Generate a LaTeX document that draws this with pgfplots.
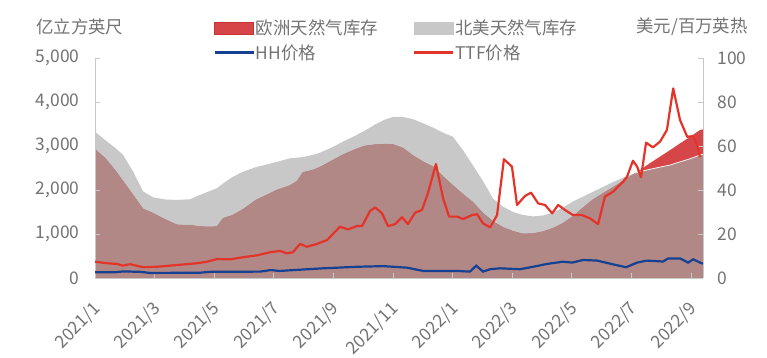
\documentclass[border=0pt]{standalone}
\usepackage{fontspec}
\setmainfont{Noto Sans CJK SC}
\usepackage{pgfplots}
\usepackage{pgfplotstable}
\pgfplotsset{compat=1.18}

\definecolor{naGray}{RGB}{200,200,200}
\definecolor{euRed}{RGB}{214,70,72}
\definecolor{euDark}{RGB}{200,50,50}
\definecolor{overlap}{RGB}{177,136,134}
\definecolor{hhBlue}{RGB}{22,64,146}
\definecolor{ttfRed}{RGB}{228,52,42}
\definecolor{txt}{RGB}{115,115,115}
\definecolor{axl}{RGB}{200,200,200}

\pgfplotstableread{
m na eu
0 3325 2924
0.34 3136 2720
0.67 2960 2450
0.94 2800 2200
1.28 2417 1880
1.61 1970 1570
1.95 1833 1470
2.35 1785 1330
2.75 1775 1205
3.19 1790 1200
3.52 1886 1167
3.86 1980 1160
4.09 2040 1167
4.30 2150 1356
4.60 2290 1420
4.97 2417 1560
5.40 2520 1770
5.74 2575 1880
6.11 2640 2000
6.54 2720 2100
6.78 2735 2200
6.98 2750 2400
7.32 2800 2455
7.55 2850 2520
7.89 2947 2644
8.32 3098 2800
8.72 3230 2920
9.06 3350 3000
9.40 3490 3030
9.73 3600 3040
10.00 3660 3035
10.34 3660 2947
10.67 3610 2780
11.01 3515 2640
11.34 3420 2530
11.68 3300 2303
12.01 3211 2100
12.35 2900 1900
12.68 2560 1720
13.02 2200 1470
13.36 1800 1280
13.69 1620 1150
14.03 1500 1060
14.36 1432 1000
14.70 1400 1010
15.03 1420 1053
15.37 1490 1130
15.70 1600 1242
16.04 1740 1400
16.38 1850 1600
16.71 1960 1780
17.05 2070 1924
17.38 2180 2060
17.72 2280 2200
17.95 2341 2303
18.13 2382 2382
18.29 2420 2455
18.62 2470 2610
18.96 2520 2760
19.30 2568 2909
19.63 2640 3060
19.97 2710 3210
20.30 2795 3364
20.40 2815 3380
}\storage

\pgfplotstableread{
m p
0 2.6
0.67 2.6
0.94 3.0
1.51 2.8
1.85 2.3
3.52 2.4
3.86 2.8
5.54 2.9
5.90 3.6
6.20 3.2
6.54 3.5
7.65 4.4
8.79 5.1
9.66 5.4
10.47 4.7
11.01 3.2
12.15 3.2
12.58 2.9
12.79 5.6
13.02 2.9
13.26 4.0
13.59 4.4
14.26 4.0
14.70 5.1
15.17 6.4
15.70 7.4
16.01 7.0
16.38 8.2
16.85 7.9
17.38 6.2
17.82 4.9
18.19 7.0
18.52 7.9
19.06 7.5
19.23 8.9
19.63 8.9
19.90 7.0
20.07 8.5
20.30 7.0
20.40 6.5
}\hh

\pgfplotstableread{
m p
0 7.4
0.40 6.7
0.74 6.4
0.94 5.6
1.17 6.3
1.61 4.9
2.08 5.1
2.75 5.9
3.42 6.7
3.76 7.4
4.09 8.6
4.53 8.5
5.10 9.7
5.44 10.3
5.87 11.7
6.21 12.3
6.44 11.2
6.64 11.7
6.88 15.5
7.11 14.2
7.45 15.5
7.79 17.3
8.22 23.3
8.49 22.1
8.79 23.6
8.96 23.6
9.23 30.5
9.40 32.1
9.63 29.4
9.83 23.6
10.07 24.5
10.30 27.6
10.50 24.5
10.74 29.7
10.97 30.9
11.17 38.5
11.44 51.8
11.68 36.2
11.88 27.9
12.15 27.9
12.35 26.8
12.65 28.6
12.82 29.0
13.02 24.8
13.26 23.0
13.49 28.6
13.72 54.0
13.99 50.6
14.16 33.2
14.43 37.3
14.63 38.8
14.87 33.9
15.10 33.2
15.34 29.4
15.54 33.2
15.77 30.9
16.04 28.6
16.34 28.6
16.61 27.1
16.88 24.5
17.11 37.0
17.38 39.2
17.72 43.8
17.85 46.0
18.05 53.3
18.19 50.6
18.32 45.8
18.49 61.5
18.72 59.4
18.96 62.0
19.19 67.3
19.40 86.2
19.63 71.8
19.87 64.2
20.07 64.5
20.20 60.5
20.30 54.9
}\ttf

\begin{document}
\begin{tikzpicture}[font=\fontsize{17.5}{20}\selectfont]
\path[use as bounding box] (0bp,0bp) rectangle (767bp,358bp);

\begin{axis}[
  at={(95bp,80bp)}, anchor=south west,
  scale only axis, width=608bp, height=220bp,
  xmin=0, xmax=20.40, ymin=0, ymax=5000,
  axis x line*=bottom, axis y line*=left,
  axis line style={draw=axl, line width=1bp},
  axis on top,
  tick align=inside,
  major tick length=5bp,
  tick style={draw=axl, line width=0.8bp},
  xtick={0,2,...,20},
  xticklabels={2021/1,2021/3,2021/5,2021/7,2021/9,2021/11,2022/1,2022/3,2022/5,2022/7,2022/9},
  xticklabel style={rotate=45, anchor=north east, text=txt, inner sep=0pt, xshift=-18bp, yshift=-13bp},
  ytick={0,1000,...,5000},
  yticklabel style={text=txt, xshift=-12bp},
  /pgf/number format/assume math mode=true,
  /pgf/number format/1000 sep={,},
  scaled y ticks=false,
]
% North American storage (grey) and European storage (red)
\addplot[draw=none, fill=naGray] table[x=m, y=na] {\storage} \closedcycle;
\addplot[draw=none, fill=euRed] table[x=m, y=eu] {\storage} \closedcycle;
% overlapping part of the two areas
\addplot[draw=overlap, line width=0.6bp, fill=overlap, restrict x to domain=0:18.13] table[x=m, y=eu] {\storage} \closedcycle;
\addplot[draw=overlap, line width=0.6bp, fill=overlap, restrict x to domain=18.13:20.40] table[x=m, y=na] {\storage} \closedcycle;
\addplot[draw=white!75!naGray, line width=0.8bp, restrict x to domain=18.13:20.40] table[x=m, y=na] {\storage};
\end{axis}

\begin{axis}[
  at={(95bp,80bp)}, anchor=south west,
  scale only axis, width=608bp, height=220bp,
  xmin=0, xmax=20.40, ymin=0, ymax=100,
  axis x line=none, axis y line*=right,
  axis line style={draw=axl, line width=1bp},
  tick align=inside,
  major tick length=5bp,
  tick style={draw=axl, line width=0.8bp},
  xtick=\empty,
  ytick={0,20,...,100},
  yticklabel style={text=txt, xshift=11bp},
  /pgf/number format/assume math mode=true,
  legend columns=2,
  legend cell align=left,
  legend style={at={(0.195,1.08)}, anchor=west, draw=none, fill=none,
    text=txt, inner sep=0pt, row sep=6bp,
    nodes={inner sep=1bp},
    /tikz/every even column/.append style={column sep=34bp}},
  legend image code/.code={\draw[#1] (0bp,0bp) -- (39bp,0bp);},
]
\addlegendimage{legend image code/.code={\fill[euRed, draw=euDark, line width=0.8bp] (0bp,-6bp) rectangle (39bp,6bp);}}
\addlegendentry{欧洲天然气库存}
\addlegendimage{legend image code/.code={\fill[naGray] (0bp,-6bp) rectangle (39bp,6bp);}}
\addlegendentry{北美天然气库存}
\addplot[hhBlue, line width=2.2bp] table[x=m, y=p] {\hh};
\addlegendentry{HH价格}
\addplot[ttfRed, line width=2.2bp, line join=round] table[x=m, y=p] {\ttf};
\addlegendentry{TTF价格}
\end{axis}

\node[anchor=west, inner sep=0pt, text=txt] at (36bp,331bp) {亿立方英尺};
\node[anchor=east, inner sep=0pt, text=txt] at (748bp,331bp) {美元/百万英热};
\end{tikzpicture}
\end{document}
